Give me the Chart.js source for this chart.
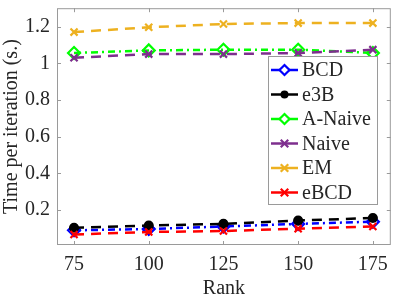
<!DOCTYPE html>
<html>
<head>
<meta charset="utf-8">
<script src="https://cdn.jsdelivr.net/npm/chart.js@4/dist/chart.umd.min.js"></script>
<style>
  html, body { margin: 0; padding: 0; background: #fff; }
  #wrap { width: 399px; height: 299px; }
</style>
</head>
<body>
<div id="wrap"><canvas id="timeChart" width="399" height="299"></canvas></div>
<script>
const ranks = [75, 100, 125, 150, 175];
const yTicks = [0.2, 0.4, 0.6, 0.8, 1, 1.2];

const bcd    = [0.090, 0.097, 0.111, 0.125, 0.137];
const e3b    = [0.104, 0.116, 0.125, 0.143, 0.157];
const aNaive = [1.056, 1.070, 1.074, 1.074, 1.056];
const naive  = [1.030, 1.050, 1.050, 1.056, 1.074];
const em     = [1.170, 1.196, 1.214, 1.219, 1.219];
const ebcd   = [0.067, 0.081, 0.086, 0.099, 0.111];

const FONT = "'Liberation Serif', 'Times New Roman', serif";
const AXIS_COLOR = '#9a9a9a';
const TEXT_COLOR = '#262626';

function series(label, values, color, dashDot, marker, radius, fill) {
  return {
    label,
    data: values.map((v, i) => ({ x: ranks[i], y: v })),
    borderColor: color,
    borderWidth: 2.5,
    borderDash: dashDot ? [7, 4, 2, 4] : [10, 7],
    pointStyle: marker,
    pointRadius: radius,
    pointHoverRadius: radius,
    pointBorderColor: color,
    pointBorderWidth: 2.2,
    pointBackgroundColor: fill ? color : 'rgba(0,0,0,0)',
    fill: false,
    tension: 0,
  };
}

const datasets = [
  series('BCD', bcd, '#0000ff', true, 'rectRot', 6, false),
  series('e3B', e3b, '#000000', false, 'circle', 4, true),
  series('A-Naive', aNaive, '#00ff00', true, 'rectRot', 6, false),
  series('Naive', naive, '#7e2f8e', false, 'crossRot', 5, false),
  series('EM', em, '#edb120', false, 'crossRot', 5, false),
  series('eBCD', ebcd, '#ff0000', false, 'crossRot', 5, false),
];
// later series drawn on top, like the original plot
datasets.forEach((d, i) => { d.order = datasets.length - i; });

function drawMarker(ctx, style, x, y, r, color) {
  ctx.save();
  ctx.setLineDash([]);
  ctx.strokeStyle = color;
  ctx.lineWidth = 2.2;
  ctx.beginPath();
  if (style === 'rectRot') {
    ctx.moveTo(x, y - r); ctx.lineTo(x + r, y); ctx.lineTo(x, y + r); ctx.lineTo(x - r, y);
    ctx.closePath();
    ctx.fillStyle = '#fff';
    ctx.fill();
    ctx.stroke();
  } else if (style === 'circle') {
    ctx.arc(x, y, r, 0, Math.PI * 2);
    ctx.fillStyle = color;
    ctx.fill();
  } else {
    const d = r * 0.75;
    ctx.moveTo(x - d, y - d); ctx.lineTo(x + d, y + d);
    ctx.moveTo(x + d, y - d); ctx.lineTo(x - d, y + d);
    ctx.stroke();
  }
  ctx.restore();
}

// matlab-like box with inward ticks on all four sides, plus the axis titles
const boxPlugin = {
  id: 'boxPlugin',
  afterDatasetsDraw(chart) {
    const { ctx, chartArea: a, scales } = chart;
    ctx.save();
    ctx.strokeStyle = AXIS_COLOR;
    ctx.lineWidth = 1;
    ctx.strokeRect(a.left + 0.5, a.top + 0.5, a.right - a.left - 1, a.bottom - a.top - 1);
    const len = 4;
    ctx.beginPath();
    ranks.forEach(v => {
      const px = Math.round(scales.x.getPixelForValue(v)) + 0.5;
      ctx.moveTo(px, a.bottom); ctx.lineTo(px, a.bottom - len);
      ctx.moveTo(px, a.top); ctx.lineTo(px, a.top + len);
    });
    yTicks.forEach(v => {
      const py = Math.round(scales.y.getPixelForValue(v)) + 0.5;
      ctx.moveTo(a.left, py); ctx.lineTo(a.left + len, py);
      ctx.moveTo(a.right, py); ctx.lineTo(a.right - len, py);
    });
    ctx.stroke();
    ctx.restore();

    ctx.save();
    ctx.fillStyle = TEXT_COLOR;
    ctx.font = '20px ' + FONT;
    ctx.textAlign = 'center';
    ctx.textBaseline = 'middle';
    ctx.fillText('Rank', (a.left + a.right) / 2, 289);
    ctx.translate(12, (a.top + a.bottom) / 2);
    ctx.rotate(-Math.PI / 2);
    ctx.fillText('Time per iteration (s.)', 0, 0);
    ctx.restore();
  },
};

// legend box inside the plot
const legendPlugin = {
  id: 'boxLegend',
  afterDraw(chart) {
    const { ctx } = chart;
    const box = { x: 268, y: 56, w: 109, h: 148 };
    const rowTop = 70;
    const rowGap = 24.5;
    ctx.save();
    ctx.fillStyle = '#fff';
    ctx.fillRect(box.x, box.y, box.w, box.h);
    ctx.strokeStyle = AXIS_COLOR;
    ctx.lineWidth = 1;
    ctx.strokeRect(box.x + 0.5, box.y + 0.5, box.w, box.h);
    chart.data.datasets.forEach((ds, i) => {
      const y = rowTop + i * rowGap;
      ctx.setLineDash([]);
      ctx.strokeStyle = ds.borderColor;
      ctx.lineWidth = 2.5;
      ctx.beginPath();
      ctx.moveTo(271, y); ctx.lineTo(298, y);
      ctx.stroke();
      drawMarker(ctx, ds.pointStyle, 284.5, y, ds.pointStyle === 'circle' ? 4 : 5, ds.borderColor);
      ctx.fillStyle = TEXT_COLOR;
      ctx.font = '20px ' + FONT;
      ctx.textBaseline = 'middle';
      ctx.fillText(ds.label, 302, y + 1);
    });
    ctx.restore();
  },
};

function noPad(s) {
  s.paddingTop = 0;
  s.paddingBottom = 0;
  s.paddingLeft = 0;
  s.paddingRight = 0;
}

new Chart(document.getElementById('timeChart'), {
  type: 'line',
  data: { datasets },
  options: {
    responsive: false,
    animation: false,
    devicePixelRatio: 1,
    layout: { padding: { left: 0, right: 4, top: 1, bottom: 0 } },
    plugins: { legend: { display: false }, tooltip: { enabled: false } },
    scales: {
      x: {
        type: 'linear',
        min: 69.3,
        max: 181,
        afterBuildTicks: s => { s.ticks = ranks.map(v => ({ value: v })); },
        afterFit: s => { s.height = 54; noPad(s); },
        grid: { display: false, drawTicks: false },
        border: { display: false },
        ticks: { color: TEXT_COLOR, font: { family: FONT, size: 20 }, padding: 8, maxRotation: 0 },
      },
      y: {
        type: 'linear',
        min: 0.01,
        max: 1.3,
        afterBuildTicks: s => { s.ticks = yTicks.map(v => ({ value: v })); },
        afterFit: s => { s.width = 57; noPad(s); },
        grid: { display: false, drawTicks: false },
        border: { display: false },
        ticks: {
          color: TEXT_COLOR,
          font: { family: FONT, size: 20 },
          padding: 7,
          format: { minimumFractionDigits: 0, maximumFractionDigits: 1 },
        },
      },
    },
  },
  plugins: [boxPlugin, legendPlugin],
});
</script>
</body>
</html>
